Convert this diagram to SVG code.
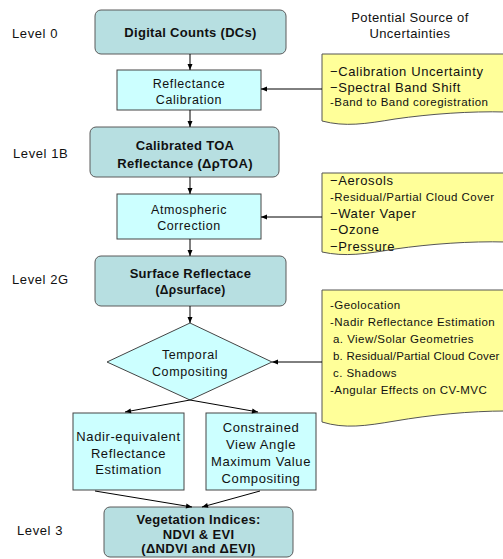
<svg xmlns="http://www.w3.org/2000/svg" width="503" height="559" viewBox="0 0 503 559">
<defs>
<marker id="ah" markerWidth="8" markerHeight="8" refX="7" refY="4" orient="auto" markerUnits="userSpaceOnUse">
<path d="M1,1.5 L7,4 L1,6.5 Z" fill="#000"/>
</marker>
<style>
text{font-family:"Liberation Sans",Arial,sans-serif;fill:#111;}
.lvl{font-size:13px;letter-spacing:0.6px;}
.main{fill:#b7dfe1;stroke:#5a5a5a;stroke-width:1;}
.proc{fill:#ccffff;stroke:#444;stroke-width:1;}
.note{fill:#ffff99;stroke:#555;stroke-width:1;}
.b{font-weight:bold;font-size:13px;letter-spacing:0.3px;}
.r{font-size:12.5px;letter-spacing:0.6px;}
.n{font-size:13px;letter-spacing:0.6px;}
.s{font-size:11.5px;letter-spacing:0.45px;}
.h{font-size:13px;letter-spacing:0.4px;}
.c{text-anchor:middle;}
.conn line{stroke:#000;stroke-width:1;marker-end:url(#ah);}
</style>
</defs>
<rect width="503" height="559" fill="#fff"/>

<g id="labels">
<text class="lvl" x="12" y="38">Level 0</text>
<text class="lvl" x="13" y="158">Level 1B</text>
<text class="lvl" x="12" y="284">Level 2G</text>
<text class="lvl" x="17" y="535">Level 3</text>
<text class="h c" x="410" y="22">Potential Source of</text>
<text class="h c" x="410" y="38">Uncertainties</text>
</g>

<g id="dcs">
<rect class="main" x="95" y="10" width="191" height="44" rx="6"/>
<text class="b c" x="190.5" y="37">Digital Counts (DCs)</text>
</g>
<g id="reflcal">
<rect class="proc" x="117" y="70" width="144" height="40"/>
<text class="r c" x="189" y="88">Reflectance</text>
<text class="r c" x="189" y="104">Calibration</text>
</g>
<g id="toa">
<rect class="main" x="90" y="127" width="189" height="50" rx="6"/>
<text class="b c" x="185" y="150">Calibrated TOA</text>
<text class="b c" x="185" y="168">Reflectance (ΔρTOA)</text>
</g>
<g id="atmcor">
<rect class="proc" x="117" y="194" width="144" height="45"/>
<text class="r c" x="189" y="214">Atmospheric</text>
<text class="r c" x="189" y="230">Correction</text>
</g>
<g id="surf">
<rect class="main" x="95" y="256" width="191" height="50" rx="6"/>
<text class="b c" x="190.5" y="278">Surface Reflectace</text>
<text class="c" style="font-weight:bold;font-size:12px;letter-spacing:0.3px" x="190.5" y="294">(Δρsurface)</text>
</g>
<g id="temporal">
<polygon class="proc" points="190,323 272,362 190,400 107,362"/>
<text class="r c" x="190" y="359">Temporal</text>
<text class="r c" x="190" y="376">Compositing</text>
</g>
<g id="nadir">
<rect class="proc" x="73" y="413" width="111" height="77"/>
<text class="n c" x="128.5" y="441">Nadir-equivalent</text>
<text class="n c" x="128.5" y="458">Reflectance</text>
<text class="n c" x="128.5" y="474">Estimation</text>
</g>
<g id="cvmvc">
<rect class="proc" x="206" y="413" width="110" height="77"/>
<text class="n c" x="261" y="432">Constrained</text>
<text class="n c" x="261" y="449">View Angle</text>
<text class="n c" x="261" y="466">Maximum Value</text>
<text class="n c" x="261" y="483">Compositing</text>
</g>
<g id="vi">
<rect class="main" x="104" y="507" width="189" height="50" rx="6"/>
<text class="b c" x="198.5" y="524">Vegetation Indices:</text>
<text class="b c" x="198.5" y="539">NDVI &amp; EVI</text>
<text class="b c" x="198.5" y="553">(ΔNDVI and ΔEVI)</text>
</g>

<g id="note1">
<path class="note" d="M322,54 H506 V112 C470,111 430,114 395,119 C365,124 345,127 322,121 Z"/>
<text class="n" x="330" y="76">−Calibration Uncertainty</text>
<text class="n" x="330" y="92">−Spectral Band Shift</text>
<text class="s" x="330" y="106">-Band to Band coregistration</text>
</g>
<g id="note2">
<path class="note" d="M322,173 H506 V242 C470,241 430,244 395,249 C365,254 345,257 322,252 Z"/>
<text class="n" x="330" y="185">−Aerosols</text>
<text class="s" x="330" y="201">-Residual/Partial Cloud Cover</text>
<text class="n" x="330" y="218">−Water Vaper</text>
<text class="n" x="330" y="234">−Ozone</text>
<text class="n" x="330" y="251">−Pressure</text>
</g>
<g id="note3">
<path class="note" d="M322,290 H506 V411 C470,411 430,415 395,421 C365,426 345,429 322,422 Z"/>
<text class="s" x="330" y="309">-Geolocation</text>
<text class="s" x="330" y="326">-Nadir Reflectance Estimation</text>
<text class="s" x="333" y="343">a. View/Solar Geometries</text>
<text class="s" x="333" y="360" style="letter-spacing:0.2px">b. Residual/Partial Cloud Cover</text>
<text class="s" x="333" y="377">c. Shadows</text>
<text class="s" x="330" y="394">-Angular Effects on CV-MVC</text>
</g>

<g id="connectors" class="conn">
<line x1="190" y1="54" x2="190" y2="70"/>
<line x1="190" y1="110" x2="190" y2="127"/>
<line x1="190" y1="177" x2="190" y2="194"/>
<line x1="190" y1="239" x2="190" y2="256"/>
<line x1="190" y1="306" x2="190" y2="323"/>
<line x1="322" y1="89" x2="261" y2="89"/>
<line x1="322" y1="217" x2="261" y2="217"/>
<line x1="322" y1="362" x2="272" y2="362"/>
<line x1="190" y1="400" x2="125" y2="412"/>
<line x1="190" y1="400" x2="258" y2="412"/>
<line x1="95" y1="491" x2="192" y2="507"/>
<line x1="260" y1="491" x2="202" y2="507"/>
</g>
</svg>
